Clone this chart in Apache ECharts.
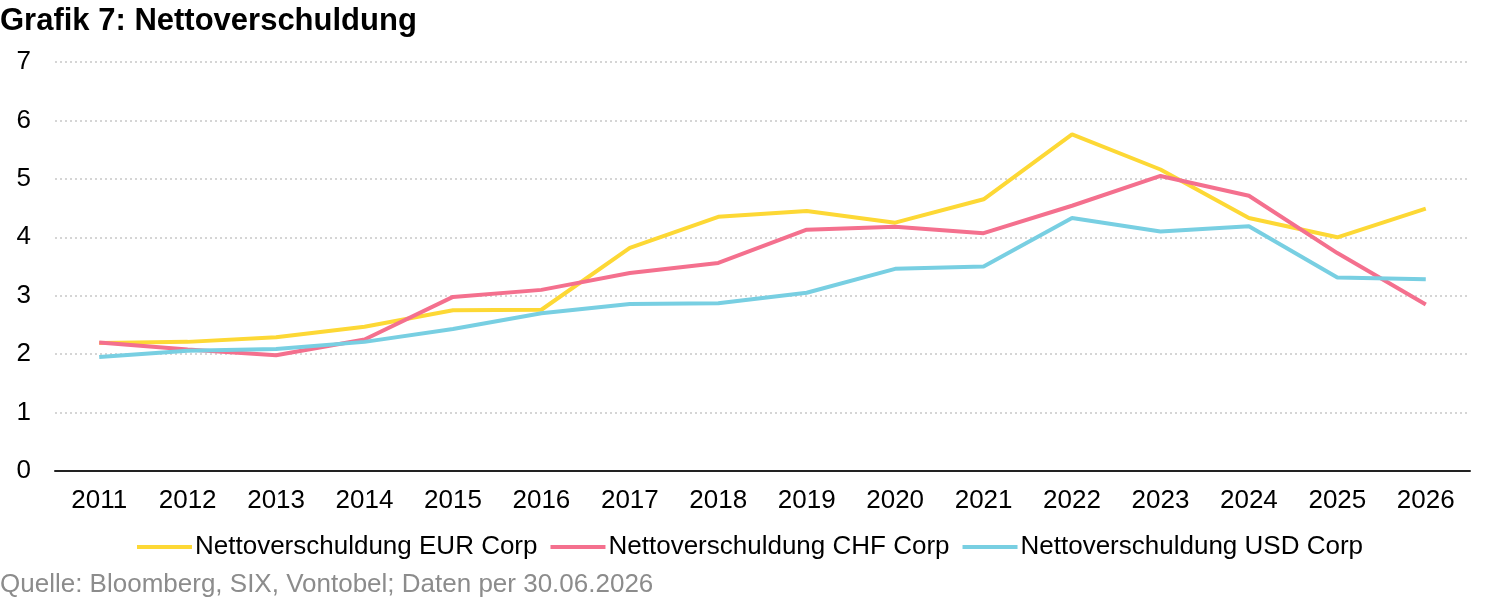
<!DOCTYPE html>
<html><head><meta charset="utf-8">
<script src="https://cdn.jsdelivr.net/npm/echarts@6/dist/echarts.min.js"></script>
<style>html,body{margin:0;padding:0;background:#fff}#c{width:1500px;height:601px}</style>
</head><body><div id="c"></div>
<script>
const years = ['2011','2012','2013','2014','2015','2016','2017','2018','2019','2020','2021','2022','2023','2024','2025','2026'];
const eurCorp = [2.19,2.21,2.29,2.47,2.75,2.76,3.82,4.35,4.45,4.25,4.65,5.76,5.16,4.33,4.00,4.49];
const chfCorp = [2.20,2.08,1.98,2.25,2.98,3.10,3.39,3.56,4.13,4.18,4.07,4.54,5.05,4.71,3.73,2.85];
const usdCorp = [1.95,2.06,2.09,2.21,2.43,2.70,2.86,2.87,3.05,3.46,3.50,4.33,4.10,4.19,3.31,3.28];
const seriesNames = ['Nettoverschuldung EUR Corp','Nettoverschuldung CHF Corp','Nettoverschuldung USD Corp'];
const colors = ['#FDD835','#F4708E','#78CFE2'];
const font = 'Liberation Sans, Arial, sans-serif';
const chart = echarts.init(document.getElementById('c'));
const mk = (name, data, color) => ({
  name, type:'line', data, symbol:'none', smooth:false,
  lineStyle:{width:4,color}, itemStyle:{color}, z: 2
});
chart.setOption({
  animation:false,
  color: colors,
  title:[
    {text:'Grafik 7: Nettoverschuldung', left:0, top:6, padding:0,
     textStyle:{fontFamily:font,fontWeight:'bold',fontSize:31,color:'#000'}},
    {text:'Quelle: Bloomberg, SIX, Vontobel; Daten per 30.06.2026', left:0, top:572, padding:0,
     textStyle:{fontFamily:font,fontWeight:'normal',fontSize:26,color:'#8c8c8c'}}
  ],
  legend:{
    data: seriesNames, top:534, left:'center', itemWidth:55, itemHeight:4, itemGap:13,
    icon:'rect', padding:0,
    textStyle:{fontFamily:font,fontSize:26,color:'#000',padding:[0,0,0,-2]}
  },
  grid:{left:55, right:30, top:62, bottom:130, containLabel:false},
  xAxis:{
    type:'category', data: years, boundaryGap:true,
    axisLine:{lineStyle:{color:'#222',width:2}},
    axisTick:{show:false},
    axisLabel:{fontFamily:font,fontSize:26,color:'#000',margin:17}
  },
  yAxis:{
    type:'value', min:0, max:7, interval:1,
    axisLine:{show:false}, axisTick:{show:false},
    axisLabel:{fontFamily:font,fontSize:26,color:'#000',margin:24},
    splitLine:{lineStyle:{color:'#c8c8c8',type:[2,3],width:1.5}}
  },
  series:[
    mk(seriesNames[0], eurCorp, colors[0]),
    mk(seriesNames[1], chfCorp, colors[1]),
    mk(seriesNames[2], usdCorp, colors[2])
  ]
});
</script></body></html>
